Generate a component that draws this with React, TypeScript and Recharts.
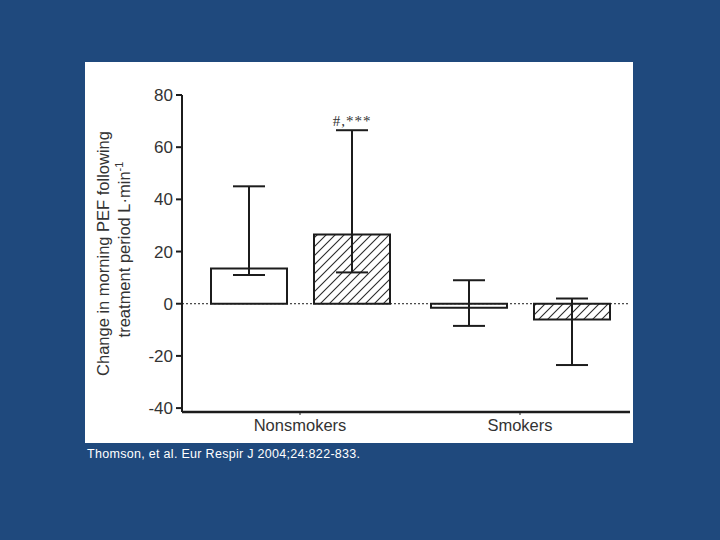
import { BarChart, Bar, XAxis, YAxis, ReferenceLine, ErrorBar, LabelList } from 'recharts'

const groups = ['Nonsmokers', 'Smokers']
const placeboMean = [13.5, -1.5]
const placeboLow = [11, -8.5]
const placeboHigh = [45, 9]
const activeMean = [26.5, -6]
const activeLow = [12, -23.5]
const activeHigh = [66.5, 2]
const notes = ['#,***', '']
const yTicks = [-40, -20, 0, 20, 40, 60, 80]

const data = groups.map((g, i) => ({
  group: g,
  placebo: placeboMean[i],
  placeboErr: [placeboMean[i] - placeboLow[i], placeboHigh[i] - placeboMean[i]],
  active: activeMean[i],
  activeErr: [activeMean[i] - activeLow[i], activeHigh[i] - activeMean[i]],
  note: notes[i],
}))

const ink = '#1c1c1c'
const font = '"Liberation Sans", Arial, sans-serif'

// note sits just above the upper error cap of the hatched bar
const NoteLabel = (props: any) => {
  const { x, y, width, height, value, index } = props
  if (!value) return null
  const mean = activeMean[index]
  const perUnit = height / mean
  const top = y - (activeHigh[index] - mean) * perUnit
  return (
    <text x={x + width / 2} y={top - 4} textAnchor="middle" letterSpacing={1}
      fontFamily='"Liberation Serif", serif' fontSize={15} fill="#333">
      {value}
    </text>
  )
}

const YLabel = ({ viewBox }: any) => {
  const cy = viewBox.y + viewBox.height / 2
  const x1 = 24
  const x2 = 45
  return (
    <g fill="#333" fontFamily={font} fontSize={16.5}>
      <text x={x1} y={cy} textAnchor="middle" transform={`rotate(-90, ${x1}, ${cy})`}>
        Change in morning PEF following
      </text>
      <text x={x2} y={cy - 4} textAnchor="middle" transform={`rotate(-90, ${x2}, ${cy - 4})`}>
        treatment period L·min<tspan fontSize={11} dy={-7}>-1</tspan>
      </text>
    </g>
  )
}

export default function App() {
  return (
    <div style={{ position: 'absolute', left: 0, top: 0, width: 720, height: 540, background: '#1f497d' }}>
      <svg width={0} height={0} style={{ position: 'absolute' }}>
        <defs>
          <pattern id="hatch" patternUnits="userSpaceOnUse" width={9} height={9}>
            <path d="M0,9 L9,0 M-2,2 L2,-2 M7,11 L11,7" stroke="#2a2a2a" strokeWidth={1.1} />
          </pattern>
        </defs>
      </svg>
      <div style={{ position: 'absolute', left: 85, top: 62, width: 548, height: 381, background: '#ffffff' }}>
        <BarChart width={548} height={381} data={data}
          margin={{ top: 33, right: 3, bottom: 0, left: 0 }}
          barSize={76} barGap={27}>
          <ReferenceLine y={0} stroke={ink} strokeWidth={1} strokeDasharray="2 2" />
          <XAxis dataKey="group" height={31} padding={{ left: 8, right: 0 }}
            axisLine={{ stroke: ink, strokeWidth: 2.5 }} tickLine={{ stroke: ink }} tickSize={3}
            tick={{ fill: '#333', fontSize: 16.5, fontFamily: font }} tickMargin={4} />
          <YAxis width={97} domain={[-41.5, 80]} ticks={yTicks} allowDataOverflow
            axisLine={{ stroke: ink, strokeWidth: 2 }} tickLine={{ stroke: ink, strokeWidth: 2 }} tickSize={6}
            tick={{ fill: '#333', fontSize: 17, fontFamily: font }} tickMargin={3}
            label={<YLabel />} />
          <Bar dataKey="placebo" fill="#ffffff" stroke={ink} strokeWidth={2} isAnimationActive={false}>
            <ErrorBar dataKey="placeboErr" width={16} stroke={ink} strokeWidth={2} direction="y" />
          </Bar>
          <Bar dataKey="active" fill="url(#hatch)" stroke={ink} strokeWidth={2} isAnimationActive={false}>
            <ErrorBar dataKey="activeErr" width={16} stroke={ink} strokeWidth={2} direction="y" />
            <LabelList dataKey="note" content={<NoteLabel />} />
          </Bar>
        </BarChart>
      </div>
      <div style={{ position: 'absolute', left: 87, top: 447, color: '#ffffff', fontFamily: font, fontSize: 12.5, letterSpacing: 0.3 }}>
        Thomson, et al. Eur Respir J 2004;24:822-833.
      </div>
    </div>
  )
}
